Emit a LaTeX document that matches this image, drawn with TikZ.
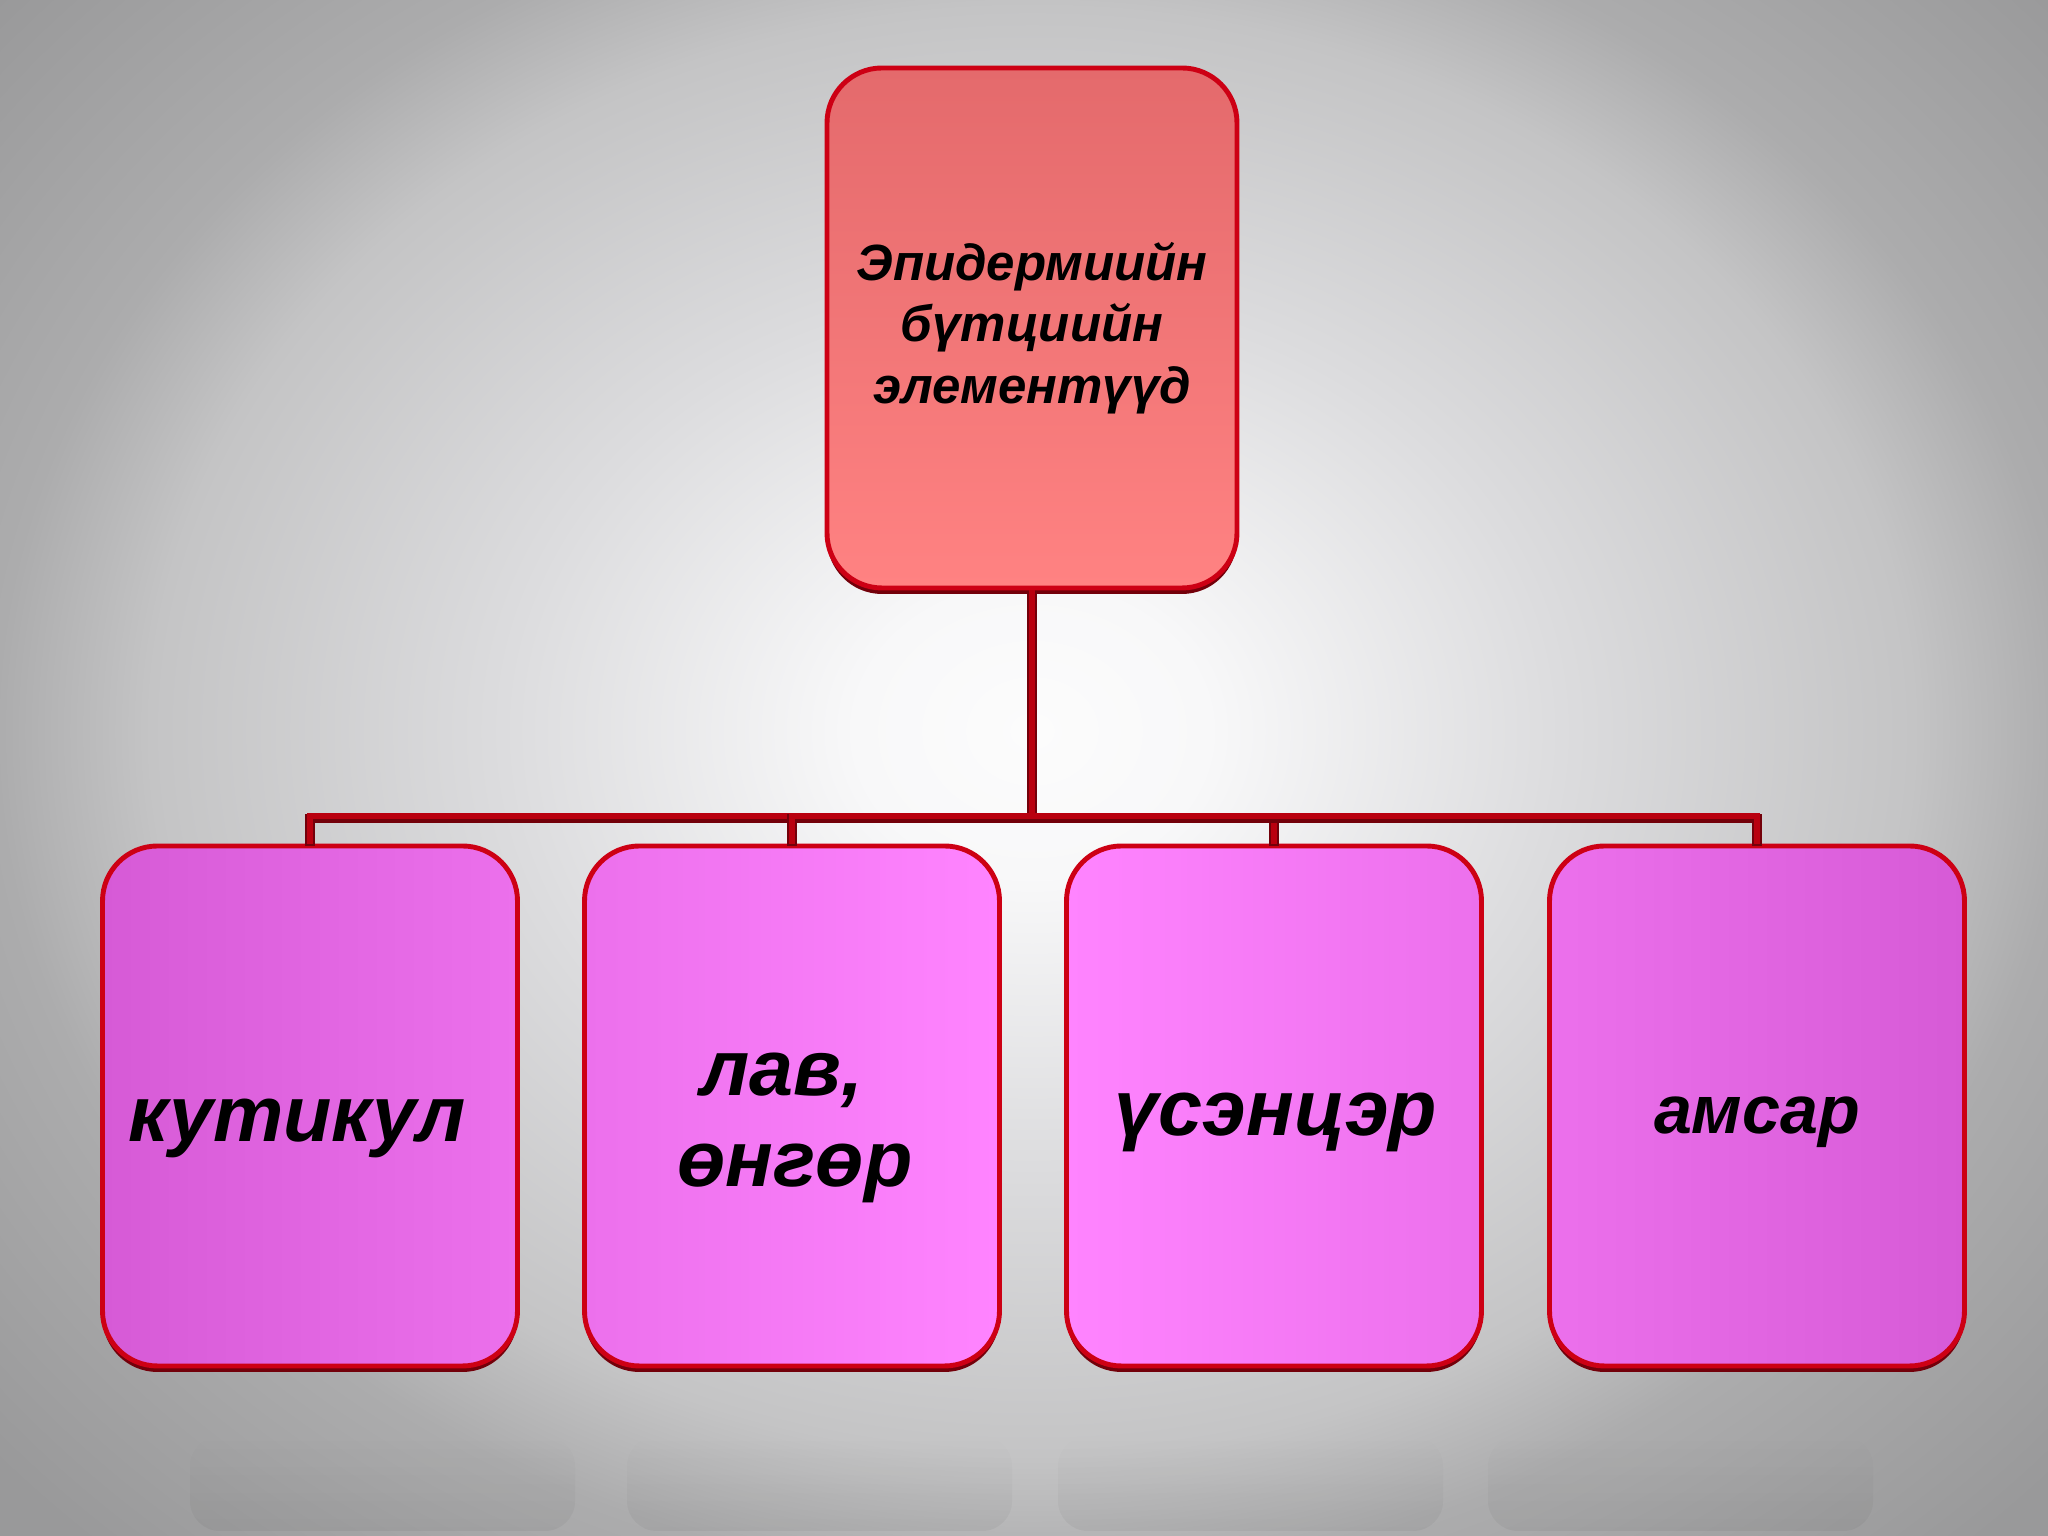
\documentclass[tikz,border=0pt]{standalone}
\usepackage{fontspec}
\setmainfont{Liberation Sans}
\usetikzlibrary{shadows,fadings}
\definecolor{boxline}{RGB}{205,0,20}
\definecolor{boxdark}{RGB}{115,0,10}
\definecolor{linkred}{RGB}{185,0,15}
\definecolor{rootA}{RGB}{228,106,108}
\definecolor{rootB}{RGB}{255,130,130}
\definecolor{pinkA}{RGB}{214,90,214}
\definecolor{pinkB}{RGB}{236,112,236}
\definecolor{pinkC}{RGB}{255,132,255}
\pgfdeclareradialshading{bgglow}{\pgfpoint{0bp}{0bp}}{color(0bp)=(rgb,255:red,252;green,252;blue,252); color(4bp)=(rgb,255:red,248;green,248;blue,249); color(12bp)=(rgb,255:red,220;green,220;blue,222); color(20bp)=(rgb,255:red,196;green,196;blue,197); color(23.5bp)=(rgb,255:red,172;green,172;blue,173); color(31bp)=(rgb,255:red,153;green,153;blue,154); color(50bp)=(rgb,255:red,150;green,150;blue,151)}

\begin{document}
\begin{tikzpicture}[
  root/.style={rectangle,rounded corners=5.5mm,minimum width=4.1cm,minimum height=5.2cm,
    draw=boxline,line width=1.4pt,top color=rootA,bottom color=rootB,align=center,
    drop shadow={fill=boxdark,opacity=1,shadow xshift=0pt,shadow yshift=-0.6mm},
    font=\fontsize{14.5}{17.5}\selectfont\bfseries\itshape},
  leaf/.style={rectangle,rounded corners=5.5mm,minimum width=4.15cm,minimum height=5.2cm,
    draw=boxline,line width=1.4pt,
    drop shadow={fill=boxdark,opacity=1,shadow xshift=0pt,shadow yshift=-0.6mm}},
  word/.style={align=center,inner sep=0pt,font=\fontsize{22.5}{26}\selectfont\bfseries\itshape},
  link/.style={draw=linkred,line width=1.8pt,
    preaction={draw=boxdark,line width=2.6pt,transform canvas={yshift=-0.25mm}}}]
\useasboundingbox (0,0) rectangle (20.48,15.36);
\clip (0,0) rectangle (20.48,15.36);
\shade[shading=bgglow] (-0.7,-1.0) rectangle (21.34,17.1);
\foreach \x in {1.9,6.27,10.58,14.88}
\fill[black,opacity=0.045,path fading=north,rounded corners=3mm] (\x,0.05) rectangle ++(3.85,0.95);

\node[root] (top) at (10.32,12.08) {Эпидермиийн\\бүтциийн\\элементүүд};
\node[leaf,left color=pinkA,right color=pinkB] (k1) at (3.10,4.30) {};
\node[leaf,left color=pinkB,right color=pinkC] (k2) at (7.92,4.30) {};
\node[leaf,left color=pinkC,right color=pinkB] (k3) at (12.74,4.30) {};
\node[leaf,left color=pinkB,right color=pinkA] (k4) at (17.57,4.30) {};

\node[word] (k1t) at ([xshift=-1.3mm,yshift=-2.2mm]k1.center) {кутикул};
\node[word] (k2t) at ([xshift=0.3mm,yshift=-2.2mm]k2.center) {лав,\hspace*{2.6mm}\\өнгөр};
\node[word] (k3t) at ([xshift=0.2mm,yshift=-1.6mm]k3.center) {үсэнцэр};
\node[word,font=\fontsize{19.4}{23}\selectfont\bfseries\itshape] (k4t) at ([yshift=-1.6mm]k4.center) {амсар};

\coordinate (bus) at (10.32,7.20);
\draw[link] (top.south) -- (bus);
\foreach \b in {k1,k2,k3,k4}
\draw[link] (bus) -| (\b.north);
\end{tikzpicture}
\end{document}
